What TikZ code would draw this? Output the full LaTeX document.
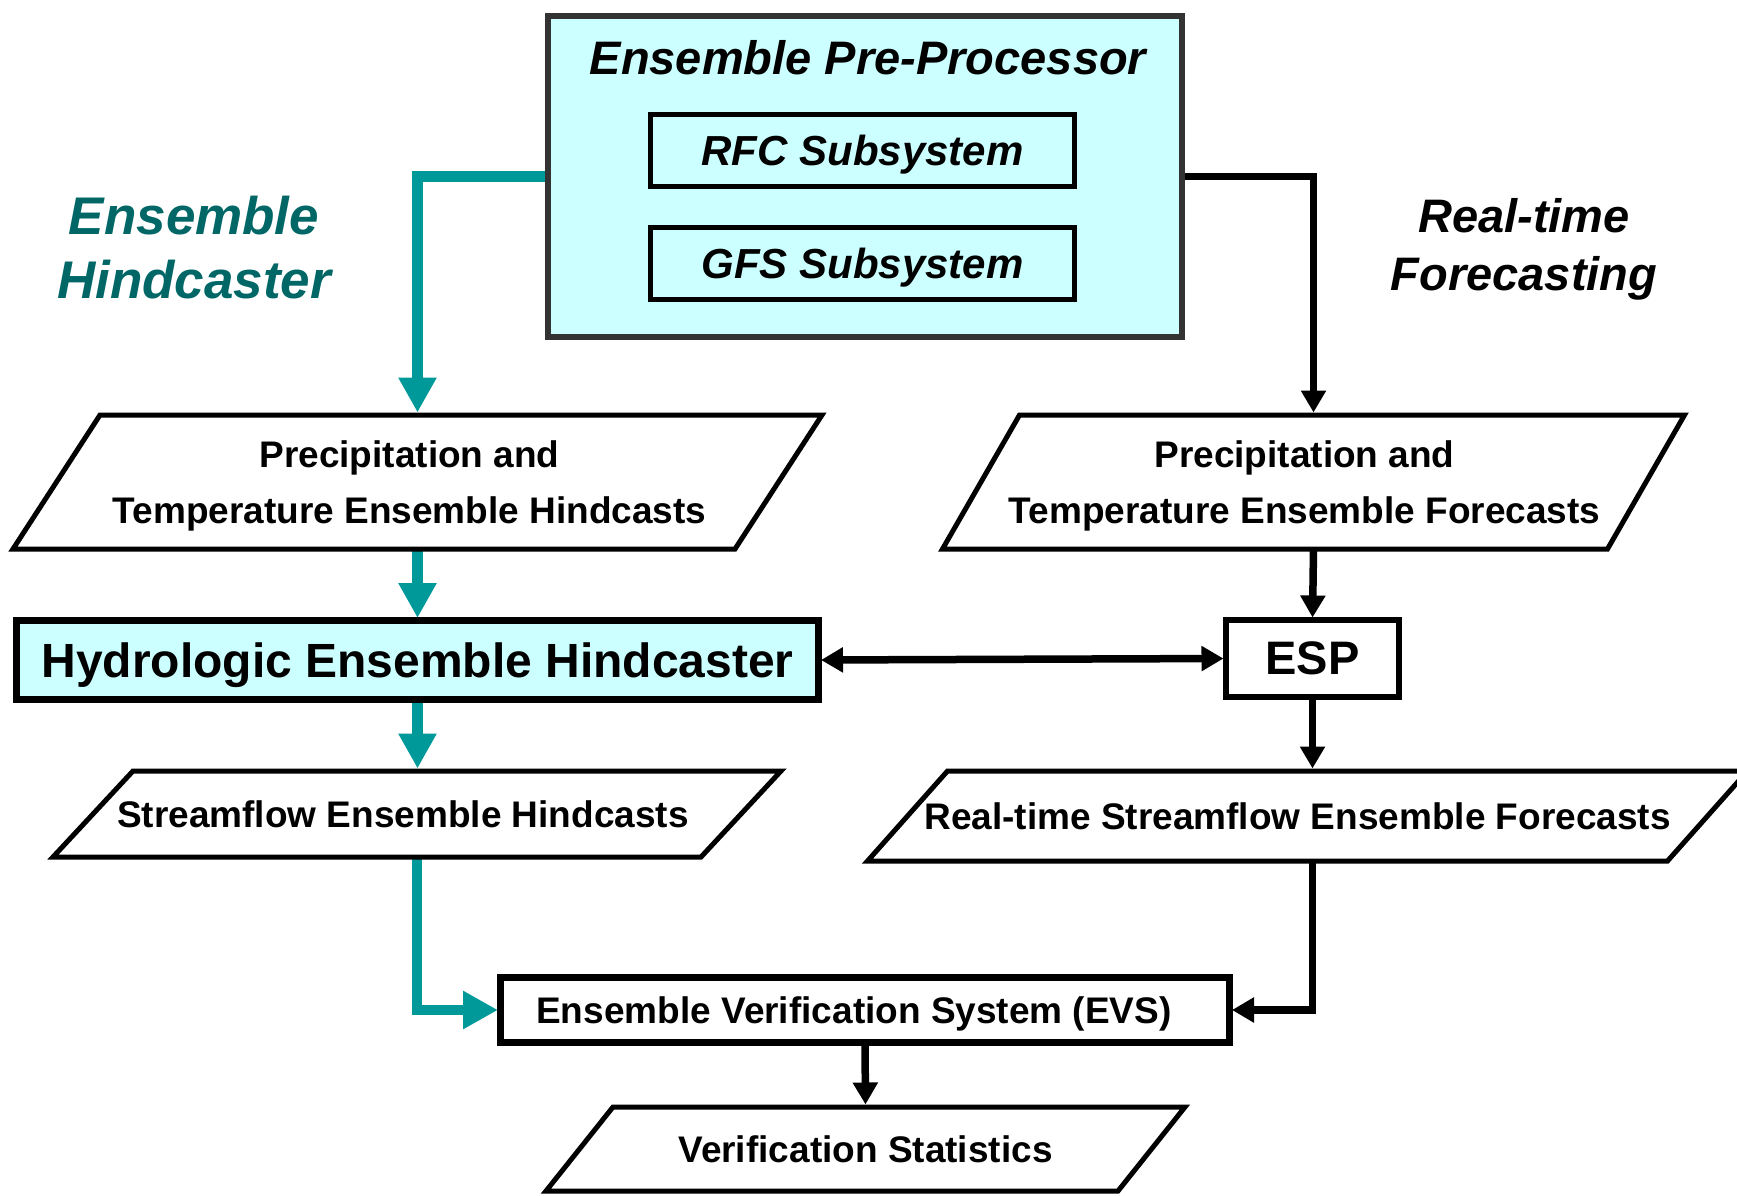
\documentclass[tikz,border=0pt]{standalone}
\usepackage{fontspec}
\setmainfont{Liberation Sans}
\usetikzlibrary{arrows.meta,backgrounds}
\definecolor{cyanfill}{HTML}{CCFFFF}
\definecolor{tealarrow}{HTML}{009999}
\definecolor{tealtext}{HTML}{006666}
\definecolor{ppborder}{HTML}{333333}
\newcommand\paradraw[2]{\draw[paraline] ([xshift=#2]#1.north west) -- ([xshift=#2]#1.north east) -- ([xshift=-#2]#1.south east) -- ([xshift=-#2]#1.south west) -- cycle;}
\begin{document}
\begin{tikzpicture}[x=1pt,y=-1pt,
  every node/.style={inner sep=0pt, outer sep=0pt},
  box/.style={draw=black, line width=#1, rectangle},
  paratext/.style={font=\fontsize{37}{56}\selectfont\bfseries, align=center, text depth=0pt},
  paraline/.style={draw=black, line width=5pt, line join=miter},
  tealconn/.style={draw=tealarrow, line width=10.5pt, -{Triangle[width=36pt,length=35pt]}, shorten >=2.5pt},
  blacktip/.tip={Triangle[width=24pt,length=22pt]},
  blackconn/.style={draw=black, line width=7.5pt, -blacktip, shorten >=2.5pt},
]
\useasboundingbox (0,0) rectangle (1737,1196);

% Ensemble Pre-Processor
\node[box=6pt, draw=ppborder, fill=cyanfill, minimum width=634pt, minimum height=321pt] (pp) at (865,176.5) {};
\node[font=\fontsize{47}{56}\selectfont\bfseries\itshape, anchor=base] (pptitle) at (868,75) {Ensemble Pre-Processor};
\node[box=5pt, minimum width=424pt, minimum height=72pt, text depth=0pt, font=\fontsize{42}{50}\selectfont\bfseries\itshape] (rfc) at (862.5,150.5) {RFC Subsystem};
\node[box=5pt, minimum width=424pt, minimum height=72pt, text depth=0pt, font=\fontsize{42}{50}\selectfont\bfseries\itshape] (gfs) at (862.5,263.5) {GFS Subsystem};

% side labels
\node[font=\fontsize{53}{64}\selectfont\bfseries\itshape, text=tealtext, align=center] (eh) at (194,248) {Ensemble\\Hindcaster};
\node[font=\fontsize{47}{58}\selectfont\bfseries\itshape, align=center] (rt) at (1524,249) {Real-time\\Forecasting};

% parallelogram data nodes
\node[minimum width=722pt, minimum height=134pt] (p1) at (417.5,482) {};
\node[paratext] (p1t) at ([xshift=-8pt]p1.center) {Precipitation and\\Temperature Ensemble Hindcasts};
\node[minimum width=665pt, minimum height=134pt] (p2) at (1313.5,482) {};
\node[paratext] (p2t) at ([xshift=-9pt]p2.center) {Precipitation and\\Temperature Ensemble Forecasts};
\node[minimum width=648pt, minimum height=86pt] (p3) at (417,814) {};
\node[paratext] (p3t) at ([xshift=-14pt]p3.center) {Streamflow Ensemble Hindcasts};
\node[minimum width=800pt, minimum height=90pt] (p4) at (1307.5,816) {};
\node[paratext] (p4t) at ([xshift=-10pt]p4.center) {Real-time Streamflow Ensemble Forecasts};
\node[paratext, minimum width=572pt, minimum height=84pt] (p5) at (865.5,1149) {Verification Statistics};
\paradraw{p1}{43.5pt}
\paradraw{p2}{38.5pt}
\paradraw{p3}{40pt}
\paradraw{p4}{40pt}
\paradraw{p5}{33.5pt}

% process boxes
\node[box=7pt, fill=cyanfill, minimum width=802pt, minimum height=79pt, text depth=0pt, font=\fontsize{48}{58}\selectfont\bfseries] (heh) at (417.5,660) {Hydrologic Ensemble Hindcaster};
\node[box=6pt, fill=white, minimum width=173pt, minimum height=77pt, text depth=0pt, font=\fontsize{47}{56}\selectfont\bfseries] (esp) at (1312.5,658.5) {ESP};
\node[box=7pt, fill=white, minimum width=729pt, minimum height=65pt] (evs) at (865,1010) {};
\node[paratext] (evst) at ([xshift=-11pt]evs.center) {Ensemble Verification System (EVS)};

% connectors
\begin{scope}[on background layer]
\draw[tealconn] (pp.west) -| (p1.north);
\draw[blackconn] (pp.east) -| (p2.north);
\draw[tealconn] (p1.south) -- (heh.north);
\draw[blackconn] (p2.south) -- (esp.north);
\draw[blackconn, blacktip-blacktip, shorten <=2.5pt] (heh.east) -- (esp.west);
\draw[tealconn] (heh.south) -- (heh.south |- p3.north);
\draw[blackconn] (esp.south) -- (esp.south |- p4.north);
\draw[tealconn] (p3.south) |- (evs.west);
\draw[blackconn] (esp.south |- p4.south) |- (evs.east);
\draw[blackconn] (evs.south) -- (p5.north);
\end{scope}
\end{tikzpicture}
\end{document}
